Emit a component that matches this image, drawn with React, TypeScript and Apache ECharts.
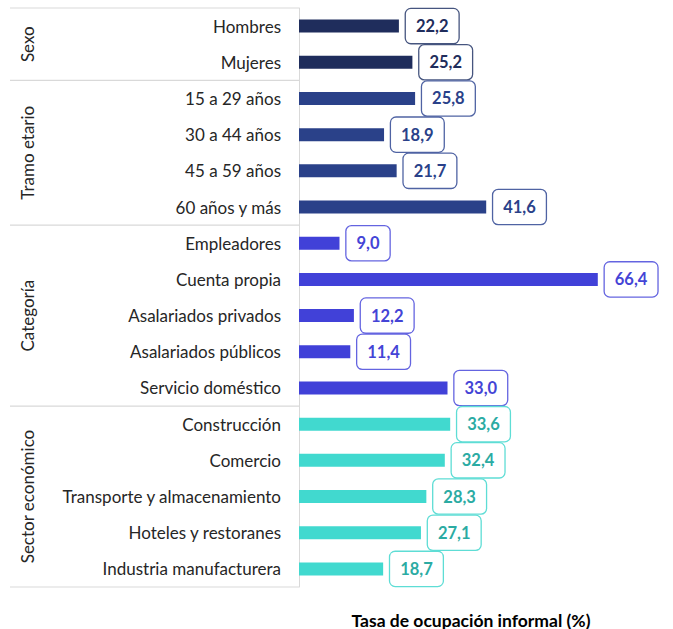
import React, { useEffect, useRef } from "react";
import * as echarts from "echarts";

const categories = [
  "Hombres", "Mujeres",
  "15 a 29 años", "30 a 44 años", "45 a 59 años", "60 años y más",
  "Empleadores", "Cuenta propia", "Asalariados privados", "Asalariados públicos", "Servicio doméstico",
  "Construcción", "Comercio", "Transporte y almacenamiento", "Hoteles y restoranes", "Industria manufacturera",
];
const values = [22.2, 25.2, 25.8, 18.9, 21.7, 41.6, 9.0, 66.4, 12.2, 11.4, 33.0, 33.6, 32.4, 28.3, 27.1, 18.7];
const groupNames = ["Sexo", "Tramo etario", "Categoría", "Sector económico"];
const groupSizes = [2, 4, 5, 5];
const groupBarColors = ["#1F2D5C", "#2A4189", "#4141D8", "#41D9CF"];
const groupTextColors = ["#1F2D5C", "#2A4189", "#4444D6", "#2BABA3"];
const groupBorderColors = ["#46557F", "#4F63A3", "#6464E0", "#5EDDD5"];
const axisTitle = "Tasa de ocupación informal (%)";

const FONT = "Lato, 'Open Sans', sans-serif";

export default function App() {
  const ref = useRef<HTMLDivElement>(null);
  useEffect(() => {
    document.body.style.margin = "0";
    const chart = echarts.init(ref.current!, null, { renderer: "svg" });
    const groupOf: number[] = [];
    groupSizes.forEach((n, g) => { for (let i = 0; i < n; i++) groupOf.push(g); });
    const data = values.map((v, i) => {
      const g = groupOf[i];
      return {
        value: v,
        itemStyle: { color: groupBarColors[g] },
        label: {
          color: groupTextColors[g],
          borderColor: groupBorderColors[g],
        },
      };
    });
    const left = 299, top = 8, height = 579, width = 360;
    chart.setOption({
      animation: false,
      grid: { left, top, width, height, containLabel: false },
      xAxis: { type: "value", min: 0, max: 80, show: false },
      yAxis: {
        type: "category",
        data: categories,
        inverse: true,
        axisLine: { show: true, lineStyle: { color: "#D9D9D9", width: 1 } },
        axisTick: { show: false },
        axisLabel: { fontFamily: FONT, fontSize: 17, color: "#262626", margin: 18 },
      },
      series: [{
        type: "bar",
        data,
        barWidth: 13,
        label: {
          show: true,
          position: "right",
          distance: 7,
          formatter: (p: any) => p.value.toFixed(1).replace(".", ","),
          fontFamily: FONT,
          fontWeight: "bold",
          fontSize: 16.5,
          lineHeight: 18,
          backgroundColor: "#fff",
          borderWidth: 1.3,
          borderRadius: 5,
          padding: [8, 10],
        },
      }],
    });
    const yTop = chart.convertToPixel({ yAxisIndex: 0 }, 0) as number;
    const band = (chart.convertToPixel({ yAxisIndex: 0 }, 1) as number) - yTop;
    const start = yTop - band / 2;
    const elements: any[] = [];
    let idx = 0;
    const lineAt = (y: number) => ({
      type: "line", shape: { x1: 10, y1: y, x2: left, y2: y },
      style: { stroke: "#D9D9D9", lineWidth: 1.2 }, silent: true,
    });
    elements.push(lineAt(start));
    groupSizes.forEach((n, g) => {
      const y0 = start + idx * band;
      const y1 = start + (idx + n) * band;
      elements.push(lineAt(y1));
      elements.push({
        type: "text", x: 27, y: (y0 + y1) / 2, rotation: Math.PI / 2,
        style: { text: groupNames[g], fontFamily: FONT, fontSize: 17, fill: "#262626", align: "center", verticalAlign: "middle" },
      });
      idx += n;
    });
    elements.push({
      type: "text", x: 471, y: 620,
      style: { text: axisTitle, fontFamily: FONT, fontSize: 17.5, fontWeight: "bold", fill: "#000", align: "center", verticalAlign: "middle" },
    });
    chart.setOption({ graphic: elements });
    return () => chart.dispose();
  }, []);
  return <div ref={ref} style={{ width: 673, height: 629 }} />;
}
